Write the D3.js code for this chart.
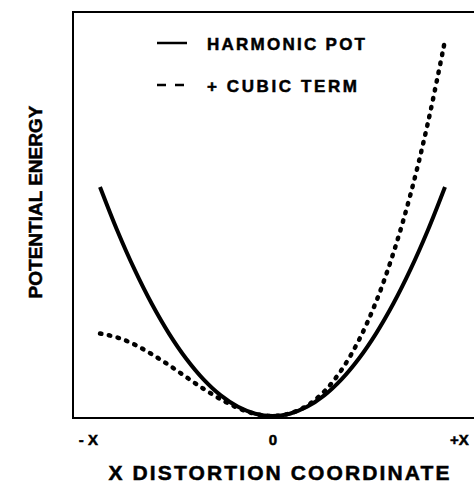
<!DOCTYPE html>
<html>
<head>
<meta charset="utf-8">
<script src="https://cdn.jsdelivr.net/npm/d3@7"></script>
<style>
  body { margin: 0; background: #fff; }
  text { font-family: "Liberation Sans", Arial, sans-serif; font-weight: bold; fill: #000; stroke: #000; stroke-width: 0.5px; }
</style>
</head>
<body>
<div id="chart"></div>
<script>
// values (x in units of X, energy in units of harmonic value at X)
var xValues = [-1, -0.9, -0.8, -0.7, -0.6, -0.5, -0.4, -0.3, -0.2, -0.1, 0,
               0.1, 0.2, 0.3, 0.4, 0.5, 0.6, 0.7, 0.8, 0.9, 1];
var harmonic = [1, 0.81, 0.64, 0.49, 0.36, 0.25, 0.16, 0.09, 0.04, 0.01, 0,
                0.01, 0.04, 0.09, 0.16, 0.25, 0.36, 0.49, 0.64, 0.81, 1];
var cubic = [0.36, 0.343, 0.312, 0.27, 0.222, 0.17, 0.119, 0.073, 0.035, 0.009, 0,
             0.011, 0.045, 0.107, 0.201, 0.33, 0.498, 0.71, 0.968, 1.277, 1.64];
var tickValues = [-1.07, 0, 1.08];
var tickLabels = ["- X", "0", "+X"];
var legendLabels = ["HARMONIC POT", "+ CUBIC TERM"];

var svgWidth = 474, svgHeight = 487;
var svg = d3.select("#chart").append("svg")
  .attr("width", svgWidth)
  .attr("height", svgHeight);

// frame: left, top, bottom (no right side)
var frame = { left: 73, top: 12, bottom: 418, right: 474 };

var xScale = d3.scaleLinear().domain([-1, 1]).range([100, 445]);
var yScale = d3.scaleLinear().domain([0, 1]).range([416, 187]);

svg.append("path")
  .attr("d", `M${frame.right},${frame.top}H${frame.left}V${frame.bottom}H${frame.right}`)
  .attr("fill", "none")
  .attr("stroke", "#000")
  .attr("stroke-width", 2);

var line = d3.line()
  .x(d => xScale(d[0]))
  .y(d => yScale(d[1]))
  .curve(d3.curveCatmullRom);

svg.append("path")
  .datum(xValues.map((x, i) => [x, harmonic[i]]))
  .attr("d", line)
  .attr("fill", "none")
  .attr("stroke", "#000")
  .attr("stroke-width", 4);

svg.append("path")
  .datum(xValues.map((x, i) => [x, cubic[i]]))
  .attr("d", line)
  .attr("fill", "none")
  .attr("stroke", "#000")
  .attr("stroke-width", 4.5)
  .attr("stroke-linecap", "round")
  .attr("stroke-dasharray", "1.5,7.5");

// x axis labels
var xAxis = d3.axisBottom(xScale)
  .tickValues(tickValues)
  .tickSize(0)
  .tickFormat((d, i) => tickLabels[i]);

var axisG = svg.append("g")
  .attr("transform", `translate(0, ${frame.bottom})`)
  .call(xAxis);
axisG.select(".domain").remove();
axisG.selectAll("text")
  .attr("dy", null)
  .attr("y", 27)
  .style("font-size", "15px")
  .style("font-family", "'Liberation Sans', Arial, sans-serif")
  .style("font-weight", "bold");

svg.append("text")
  .attr("x", 279)
  .attr("y", 480)
  .attr("text-anchor", "middle")
  .attr("textLength", 341)
  .attr("lengthAdjust", "spacing")
  .style("font-size", "21px")
  .text("X DISTORTION  COORDINATE");

svg.append("text")
  .attr("transform", "translate(42, 202) rotate(-90)")
  .attr("text-anchor", "middle")
  .style("font-size", "19px")
  .text("POTENTIAL ENERGY");

// legend
var legend = svg.append("g");
legend.append("line")
  .attr("x1", 157).attr("x2", 187)
  .attr("y1", 43).attr("y2", 43)
  .attr("stroke", "#000")
  .attr("stroke-width", 2.5);
legend.append("line")
  .attr("x1", 157).attr("x2", 186)
  .attr("y1", 85).attr("y2", 85)
  .attr("stroke", "#000")
  .attr("stroke-width", 2.5)
  .attr("stroke-dasharray", "9,9");

legend.selectAll(".legText")
  .data(legendLabels)
  .enter()
  .append("text")
  .attr("class", "legText")
  .attr("x", 207)
  .attr("y", (d, i) => i === 0 ? 50 : 92)
  .attr("textLength", (d, i) => i === 0 ? 158 : 150)
  .attr("lengthAdjust", "spacing")
  .style("font-size", "17px")
  .text(d => d);
</script>
</body>
</html>
